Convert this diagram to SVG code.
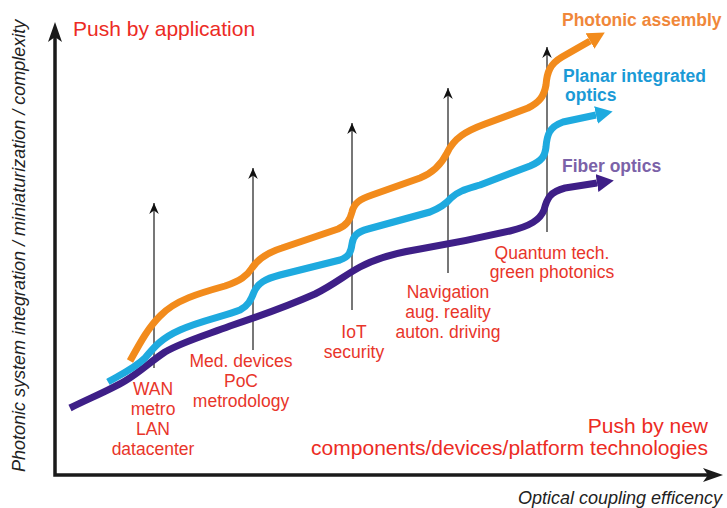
<svg xmlns="http://www.w3.org/2000/svg" width="727" height="508" viewBox="0 0 727 508">
  <style>
    text { font-family: "Liberation Sans", Arial, sans-serif; }
    .axis { fill: none; stroke: #1a1a1a; stroke-width: 3.5; }
    .axis-head { fill: #1a1a1a; }
    .axis-title { font-size: 18px; font-style: italic; fill: #222; }
    .push { font-size: 21px; fill: #ec2b24; }
    .app { font-size: 17.5px; fill: #e8352a; text-anchor: middle; }
    .app-line { stroke: #555; stroke-width: 1.6; fill: none; marker-end: url(#stealth); }
    .curve { fill: none; stroke-width: 7; stroke-linecap: butt; stroke-linejoin: round; }
    .tech { font-size: 17.5px; font-weight: bold; }
  </style>
  <defs>
    <!-- small black stealth head for the application arrows -->
    <marker id="stealth" viewBox="-12 -6 13 12" refX="0" refY="0" markerWidth="13" markerHeight="12" markerUnits="userSpaceOnUse" orient="auto">
      <path d="M0,0 L-11,-4.8 L-7.5,0 L-11,4.8 Z" fill="#111"/>
    </marker>
    <!-- filled heads for the technology curves -->
    <marker id="head-orange" viewBox="0 0 18 18" refX="0" refY="9" markerWidth="18" markerHeight="18" markerUnits="userSpaceOnUse" orient="auto">
      <path d="M0,0 L17,9 L0,18 Z" fill="#f28b1c"/>
    </marker>
    <marker id="head-blue" viewBox="0 0 18 18" refX="0" refY="9" markerWidth="18" markerHeight="18" markerUnits="userSpaceOnUse" orient="auto">
      <path d="M0,0 L17,9 L0,18 Z" fill="#1eaadf"/>
    </marker>
    <marker id="head-purple" viewBox="0 0 18 18" refX="0" refY="9" markerWidth="18" markerHeight="18" markerUnits="userSpaceOnUse" orient="auto">
      <path d="M0,0 L17,9 L0,18 Z" fill="#3e1f87"/>
    </marker>
  </defs>

  <rect width="727" height="508" fill="#fff"/>

  <!-- axes -->
  <g id="axes">
    <path class="axis" d="M55,34 V475 H712"/>
    <path class="axis-head" d="M55,22 L62,42 L55,37 L48,42 Z"/>
    <path class="axis-head" d="M723,475 L703,482 L708,475 L703,468 Z"/>
    <text class="axis-title" transform="translate(25,472) rotate(-90)">Photonic system integration / miniaturization / complexity</text>
    <text class="axis-title" x="722" y="504" text-anchor="end">Optical coupling efficency</text>
  </g>

  <!-- application arrows -->
  <g id="connectors">
    <line class="app-line" x1="154" y1="368" x2="154" y2="203"/>
    <line class="app-line" x1="253" y1="350" x2="253" y2="168"/>
    <line class="app-line" x1="352" y1="310" x2="352" y2="123"/>
    <line class="app-line" x1="448" y1="273" x2="448" y2="88"/>
    <line class="app-line" x1="547" y1="232" x2="547" y2="47"/>
  </g>

  <!-- technology curves -->
  <g id="curves">
    <path id="fiber-optics" class="curve" stroke="#3e1f87" marker-end="url(#head-purple)"
      d="M70,408 C90,398 110,390 125,381 C140,372 150,362 165,352 C180,343 200,337 230,326 C260,316 290,305 315,294 C335,284 345,275 360,267 C375,259 395,253 420,249 C450,244 480,238 510,231 C530,226 540,220 544,210 C547,198 550,192 565,188 L597,183"/>
    <path id="planar-optics" class="curve" stroke="#1eaadf" marker-end="url(#head-blue)"
      d="M108,382 C120,375 135,368 145,358 C155,346 162,338 180,330 C200,321 225,316 240,310 C248,306 251,300 254,292 C258,283 265,279 280,275 L340,260 C349,257 351,252 352,244 C353,236 357,232 368,229 L430,212 C440,208 446,204 451,198 C458,191 467,189 480,185 L530,166 C542,161 545,156 546,147 C547,135 549,127 563,122 L596,115"/>
    <path id="photonic-assembly" class="curve" stroke="#f28b1c" marker-end="url(#head-orange)"
      d="M130,361 C140,343 148,328 160,316 C175,300 200,293 225,286 C240,281 247,276 252,268 C258,259 266,253 282,248 L338,229 C347,225 350,220 352,212 C354,203 360,199 372,195 L420,178 C435,172 442,163 447,153 C454,138 466,131 485,124 L528,108 C540,102 544,96 546,85 C547,72 550,64 562,57 L590,41"/>
  </g>

  <!-- curve labels -->
  <g id="label-photonic-assembly">
    <text class="tech" x="562" y="26" fill="#f0873a">Photonic assembly</text>
  </g>
  <g id="label-planar-optics">
    <text class="tech" x="563" y="82" fill="#1b9ad6">Planar integrated</text>
    <text class="tech" x="565" y="101" fill="#1b9ad6">optics</text>
  </g>
  <g id="label-fiber-optics">
    <text class="tech" x="562" y="172" fill="#7b62a8">Fiber optics</text>
  </g>

  <!-- application labels -->
  <g id="app-wan">
    <text class="app" x="153" y="395">WAN</text>
    <text class="app" x="153" y="415">metro</text>
    <text class="app" x="153" y="435">LAN</text>
    <text class="app" x="153" y="455">datacenter</text>
  </g>
  <g id="app-med">
    <text class="app" x="241" y="367">Med. devices</text>
    <text class="app" x="241" y="387">PoC</text>
    <text class="app" x="241" y="407">metrodology</text>
  </g>
  <g id="app-iot">
    <text class="app" x="354" y="338">IoT</text>
    <text class="app" x="354" y="358">security</text>
  </g>
  <g id="app-navigation">
    <text class="app" x="448" y="298">Navigation</text>
    <text class="app" x="448" y="318">aug. reality</text>
    <text class="app" x="448" y="338">auton. driving</text>
  </g>
  <g id="app-quantum">
    <text class="app" x="552" y="259">Quantum tech.</text>
    <text class="app" x="552" y="278">green photonics</text>
  </g>

  <!-- push texts -->
  <g id="push-application">
    <text class="push" x="73" y="36">Push by application</text>
  </g>
  <g id="push-technology">
    <text class="push" x="708" y="433" text-anchor="end">Push by new</text>
    <text class="push" x="708" y="455" text-anchor="end">components/devices/platform technologies</text>
  </g>
</svg>
